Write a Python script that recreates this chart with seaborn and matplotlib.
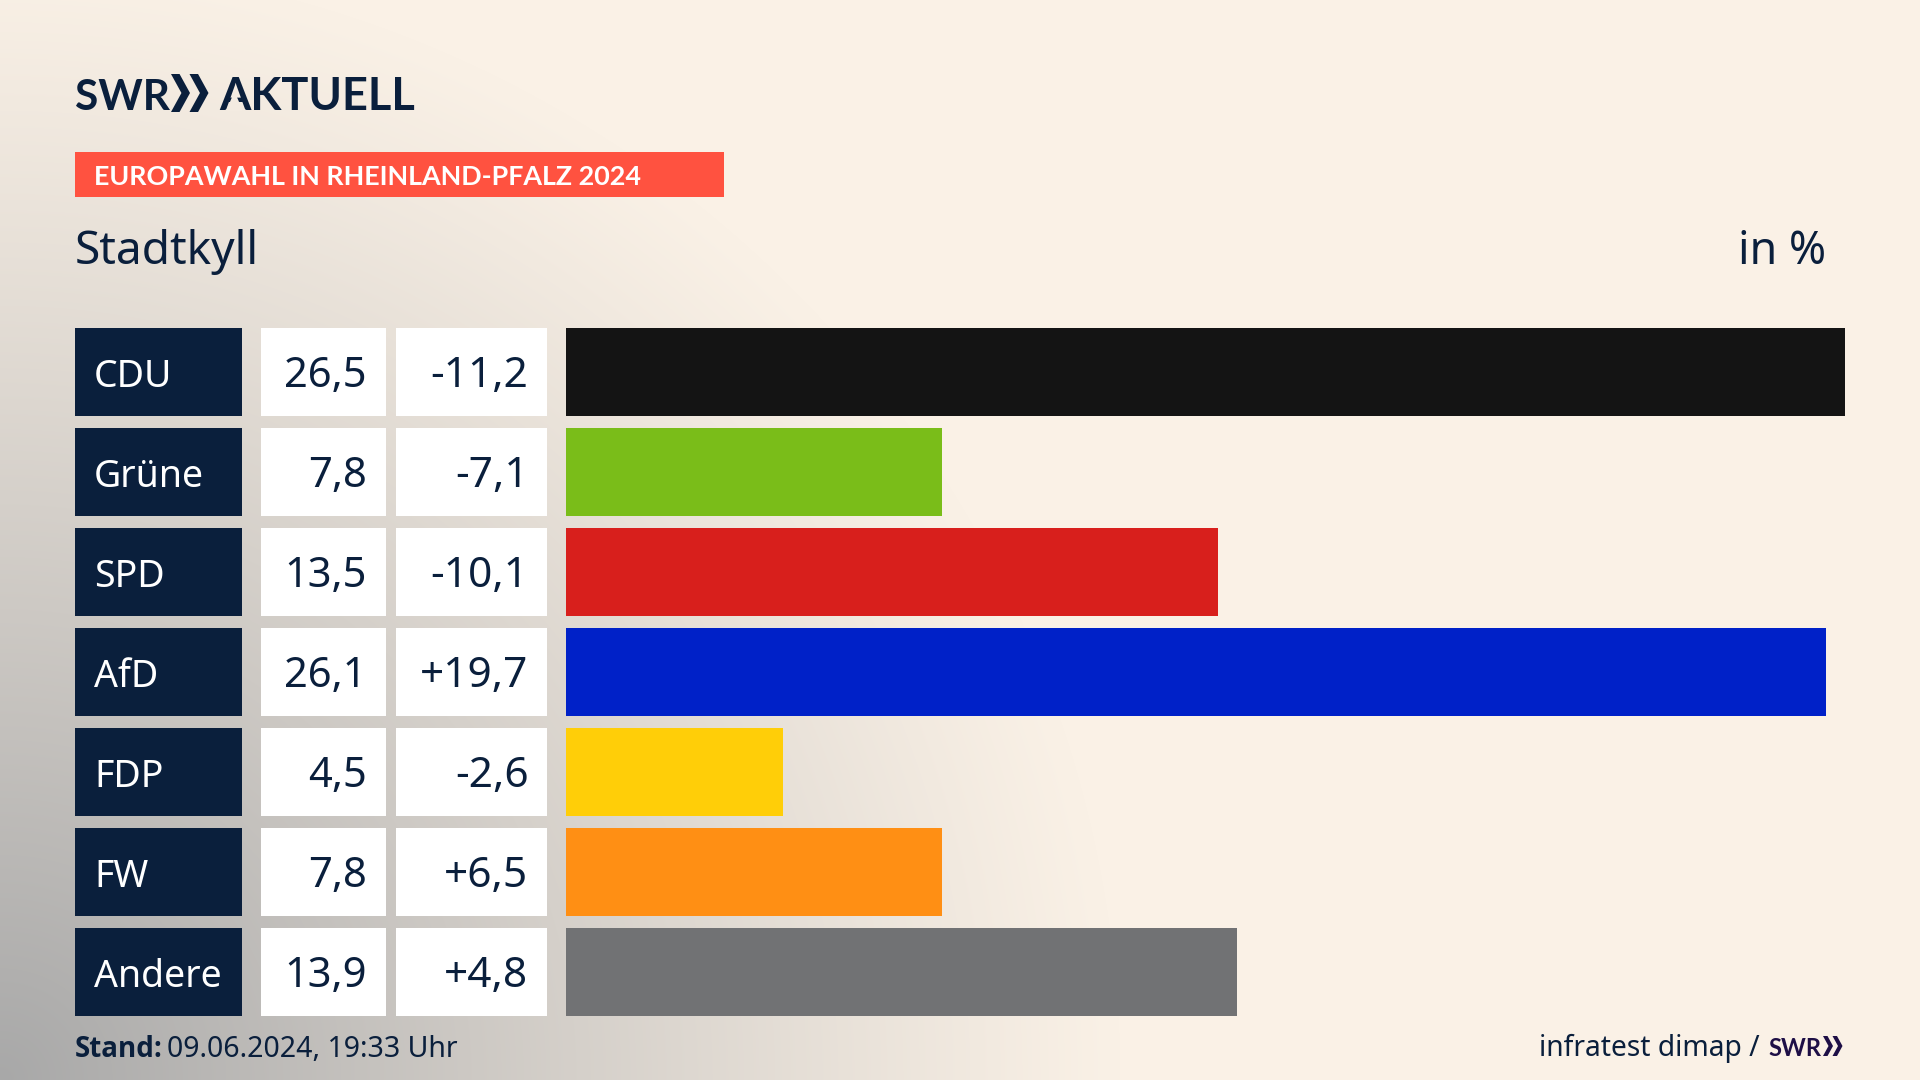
import numpy as np
import pandas as pd
import matplotlib
matplotlib.use("Agg")
import matplotlib.pyplot as plt
from matplotlib.patches import Polygon, Rectangle
import seaborn as sns

parties = ["CDU", "Grüne", "SPD", "AfD", "FDP", "FW", "Andere"]
shares = [26.5, 7.8, 13.5, 26.1, 4.5, 7.8, 13.9]
changes = [-11.2, -7.1, -10.1, 19.7, -2.6, 6.5, 4.8]
bar_colors = ["#141414", "#7ABD19", "#D81F1C", "#0021C8", "#FFCE08", "#FF8F14", "#717274"]
brand = "AKTUELL"
badge = "EUROPAWAHL IN RHEINLAND-PFALZ 2024"
place = "Stadtkyll"
unit = "in %"
stand_label = "Stand:"
stand_value = "09.06.2024, 19:33 Uhr"
source = "infratest dimap /"

NAVY = "#0A1F3C"
W, H = 1920, 1080
sns.set_theme(style="white")
plt.rcParams["font.family"] = ["Noto Sans", "DejaVu Sans"]

df = pd.DataFrame({"party": parties, "share": shares, "one": [1] * len(parties)})
fig = plt.figure(figsize=(W / 100, H / 100), dpi=100)


def px_axes(x0, x1, y0, y1, **kw):
    return fig.add_axes([x0 / W, 1 - y1 / H, (x1 - x0) / W, (y1 - y0) / H], **kw)


# background wash from the lower left corner
bg = px_axes(0, W, 0, H, zorder=-2)
cream = np.array([250, 241, 230]) / 255
grey = np.array([168, 168, 168]) / 255


def wash(x, y):
    t = np.clip(1 - np.hypot(x, H - y) / 1120, 0, 1) ** 1.1
    return cream + t[..., None] * (grey - cream)


yy, xx = np.mgrid[0:H, 0:W]
bg.imshow(wash(xx, yy), aspect="auto", extent=(0, W, H, 0))
bg.axis("off")

# page-level layer in pixel coordinates
page = px_axes(0, W, 0, H, zorder=3)
page.set_xlim(0, W)
page.set_ylim(H, 0)
page.axis("off")
page.patch.set_alpha(0)

ROW_TOP, ROW_END = 322.2, 1022.2


def column(x0, x1, xvar, xlim, palette):
    ax = px_axes(x0, x1, ROW_TOP, ROW_END, zorder=2)
    sns.barplot(data=df, y="party", x=xvar, hue="party", palette=palette, legend=False,
                width=0.885, saturation=1, ax=ax, linewidth=0)
    ax.set_xlim(*xlim)
    ax.set_ylim(len(parties) - 0.5, -0.5)
    ax.axis("off")
    return ax


col_label = column(75, 242, "one", (0, 1), [NAVY] * len(parties))
col_share = column(261, 386, "one", (0, 1), ["white"] * len(parties))
col_change = column(396, 547, "one", (0, 1), ["white"] * len(parties))
col_bars = column(566, 1845, "share", (0, max(shares)), bar_colors)


def fmt(v, signed=False):
    s = f"{v:+.1f}" if signed else f"{v:.1f}"
    return s.replace(".", ",")


for i, p in enumerate(parties):
    col_label.text(19 / 167, i + 0.145, p, color="white", fontsize=27, ha="left", va="baseline",
                   transform=col_label.get_yaxis_transform())
    col_share.text(105.5 / 125, i + 0.145, fmt(shares[i]), color=NAVY, fontsize=30, ha="right",
                   va="baseline", transform=col_share.get_yaxis_transform())
    col_change.text(132.5 / 151, i + 0.145, fmt(changes[i], True), color=NAVY, fontsize=30.5, ha="right",
                    va="baseline", transform=col_change.get_yaxis_transform())


def chevrons(x, y0, y1, w, gap, color, ax=page):
    mid = (y0 + y1) / 2
    th = w * 0.45
    for k in range(2):
        xs = x + k * gap
        ax.add_patch(Polygon([(xs, y0), (xs + th, y0), (xs + w, mid), (xs + th, y1), (xs, y1),
                              (xs + w - th, mid)], closed=True, fc=color, ec="none"))


LOGO_FONT = ["Lato"]
page.text(75, 110, "SWR", family=LOGO_FONT, weight="bold", fontsize=30.5, color=NAVY, va="baseline")
chevrons(171, 74, 112, 19, 18.5, NAVY)
page.text(219, 110, brand, family=LOGO_FONT, weight="bold", fontsize=32.5, color=NAVY, va="baseline")
# the logo's A has no crossbar
page.add_patch(Polygon([(234.5, 91.5), (226, 111), (243, 111)], closed=True,
                       fc=wash(np.array(235.0), np.array(100.0)), ec="none", zorder=5))

page.add_patch(Rectangle((75, 152), 649, 45, fc="#FF5240", ec="none"))
page.text(94.5, 185, badge, family=["Lato"], weight="bold", fontsize=19.4, color="white", va="baseline")

page.text(75, 264, place, fontsize=33.2, color=NAVY, va="baseline")
page.text(1826, 264, unit, fontsize=32.2, color=NAVY, va="baseline", ha="right")

page.text(75, 1057, stand_label, family=["Open Sans"], fontsize=20, weight="bold", color=NAVY, va="baseline")
page.text(167, 1057, stand_value, fontsize=20.5, color=NAVY, va="baseline")

page.text(1760, 1056, source, fontsize=20.3, color=NAVY, va="baseline", ha="right")
page.text(1768, 1056, "SWR", family=LOGO_FONT, weight="bold", fontsize=17, color="#1E0F46", va="baseline")
chevrons(1823, 1036, 1056, 10, 9.5, "#1E0F46")

fig.savefig("out.png", dpi=100)
